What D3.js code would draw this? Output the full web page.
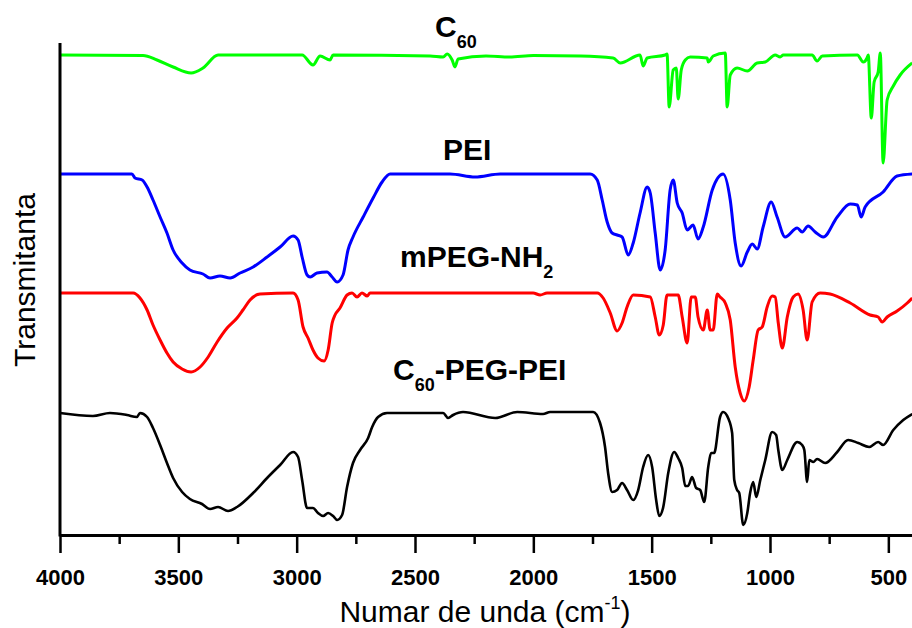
<!DOCTYPE html>
<html>
<head>
<meta charset="utf-8">
<script src="https://cdn.jsdelivr.net/npm/d3@7"></script>
<style>
  body { margin: 0; background: #fff; }
  svg { display: block; font-family: 'Liberation Sans', Arial, sans-serif; }
</style>
</head>
<body>
<div class="chart"></div>
<script>
const width = 912;
const height = 628;
const marginLeft = 60;
const marginRight = 0;
const plotTop = 43;
const plotBottom = 535;

// spectra: [wavenumber cm-1, transmittance (a.u., curves offset)]
const c60 = [
  [4000, 96], [3649, 95.9], [3590, 95], [3522, 93.6], [3446, 92.4], [3396, 93.4],
  [3332, 96], [2977, 96], [2931, 94], [2901, 95.8], [2859, 95], [2846, 96],
  [2436, 95.8], [2381, 95.6], [2364, 96.2], [2343, 95], [2331, 93.6], [2318, 95.2],
  [2200, 95.8], [2100, 95.6], [2000, 95.9], [1800, 95.8], [1663, 95.4], [1633, 94.4],
  [1549, 96], [1536, 93.8], [1519, 95.4], [1443, 96], [1435, 96.2], [1426, 85.6],
  [1409, 93], [1396, 93.4], [1388, 87.2], [1375, 93], [1358, 95], [1337, 95.6],
  [1265, 95.4], [1261, 94.6], [1240, 95.8], [1189, 96.4], [1181, 85.6], [1168, 92],
  [1139, 93.4], [1096, 92.8], [1054, 94.4], [1020, 94.6], [978, 96], [957, 95.6],
  [944, 96], [822, 96], [801, 94.8], [779, 95.8], [631, 96], [606, 94.6],
  [590, 95.4], [585, 96], [572, 83.4], [560, 90.6], [543, 92.6], [534, 96.4],
  [522, 74.4], [505, 87], [479, 89.8], [450, 92], [399, 94.4],
];

const pei = [
  [4000, 72.2], [3696, 72.2], [3683, 71.4], [3653, 71], [3632, 69.6], [3607, 67],
  [3577, 63.6], [3548, 60.4], [3522, 57], [3484, 54.4], [3451, 53], [3396, 52.2],
  [3366, 51.4], [3324, 51.8], [3281, 51.4], [3239, 52.4], [3184, 53.6], [3125, 55.6],
  [3070, 57.6], [3015, 59.8], [2994, 59], [2977, 55.6], [2956, 52], [2943, 51.6],
  [2914, 52.4], [2872, 52.6], [2850, 51.6], [2829, 50.6], [2804, 52], [2783, 57],
  [2762, 59.6], [2719, 63.6], [2677, 67.4], [2639, 70.6], [2605, 72.2], [2352, 72.2],
  [2246, 71.6], [2140, 72.2], [1760, 72.2], [1730, 71], [1709, 67], [1688, 62.6],
  [1667, 60.4], [1646, 60], [1625, 59.6], [1599, 56], [1578, 58.4], [1549, 64.4],
  [1519, 69.6], [1506, 68.4], [1485, 60.4], [1464, 53], [1443, 57], [1422, 69],
  [1409, 71], [1392, 66.4], [1371, 64.4], [1350, 61], [1325, 62], [1304, 59.2],
  [1282, 61.6], [1244, 69], [1198, 72.2], [1168, 67], [1147, 58.4], [1122, 53.8],
  [1096, 56.6], [1075, 58.2], [1054, 57.2], [1029, 61.6], [995, 66.6], [970, 63.6],
  [936, 59.6], [885, 61.4], [864, 60.6], [839, 61.8], [809, 60.6], [775, 59.6],
  [716, 63.6], [661, 66.2], [631, 66], [615, 63.6], [598, 65.6], [522, 68.6],
  [463, 71.8], [399, 72.2],
];

const mpeg = [
  [4000, 48.4], [3691, 48.4], [3662, 47.4], [3632, 45], [3607, 42], [3577, 39],
  [3548, 36.4], [3522, 34.6], [3484, 33.2], [3446, 32.6], [3408, 33.6], [3374, 35.6],
  [3336, 38.6], [3294, 41.4], [3252, 43.4], [3227, 45], [3197, 47], [3155, 48.2],
  [3015, 48.4], [2994, 47], [2973, 41.6], [2952, 39.4], [2931, 37], [2910, 35.4],
  [2884, 34.8], [2867, 37], [2850, 42.4], [2838, 44], [2817, 45.4], [2787, 48],
  [2766, 48.4], [2745, 47.6], [2724, 48.4], [2702, 47.8], [2690, 48.4], [2001, 48.4],
  [1971, 48], [1942, 48.4], [1730, 48.4], [1705, 47.4], [1675, 44.4], [1646, 40.8],
  [1625, 42.4], [1604, 45.6], [1578, 48], [1506, 47.6], [1485, 43.6], [1468, 40],
  [1451, 42], [1435, 48], [1388, 48], [1371, 43.6], [1350, 38.4], [1333, 47.6],
  [1316, 47.6], [1304, 43.6], [1282, 41], [1265, 45], [1253, 41], [1240, 41],
  [1223, 48.2], [1211, 47.6], [1189, 46.4], [1168, 43], [1147, 33.6], [1126, 28.4],
  [1109, 26.8], [1088, 29.6], [1071, 35], [1050, 41], [1033, 41.6], [1012, 45.6],
  [991, 47.8], [978, 47.6], [965, 42.4], [948, 37.4], [927, 43.6], [902, 47.6],
  [881, 48.2], [860, 45], [843, 39], [822, 46.6], [788, 48.4], [746, 48.2],
  [661, 46.4], [577, 44], [543, 43.6], [526, 42.6], [505, 43.6], [463, 44.8],
  [420, 46.4], [399, 47.4],
];

const c60PegPei = [
  [4000, 24.4], [3861, 23.8], [3789, 24.4], [3717, 24], [3675, 23.6], [3662, 24.4],
  [3632, 23.6], [3607, 21.4], [3577, 18], [3548, 14.4], [3522, 11.4], [3484, 8.6],
  [3451, 7.2], [3400, 6.2], [3366, 5.2], [3332, 5.6], [3290, 4.8], [3252, 5.6],
  [3184, 8.4], [3125, 11.4], [3070, 14], [3015, 16.6], [2994, 15.6], [2977, 11],
  [2956, 5.4], [2931, 5.4], [2910, 4.4], [2888, 3.8], [2867, 4.4], [2846, 3.8],
  [2829, 3], [2808, 4], [2787, 9.6], [2762, 14.4], [2732, 17], [2698, 19.4],
  [2681, 21.6], [2656, 23.6], [2618, 24.4], [2381, 24.4], [2360, 23.4], [2339, 24],
  [2297, 24.6], [2161, 23.4], [2068, 24.6], [1959, 24.2], [1929, 24.6], [1747, 24.6],
  [1718, 22.4], [1697, 17.6], [1684, 12.4], [1667, 8.6], [1646, 9], [1625, 10.4],
  [1604, 9], [1578, 7], [1557, 9], [1536, 13.6], [1515, 16], [1498, 13.6],
  [1481, 7], [1468, 3.8], [1451, 5.6], [1430, 12.4], [1405, 16.6], [1388, 15.4],
  [1371, 13.4], [1358, 9.8], [1346, 9.8], [1329, 11.6], [1312, 9.4], [1295, 9],
  [1278, 6.6], [1261, 13.6], [1249, 16.4], [1236, 16.4], [1211, 23.6], [1198, 24.6],
  [1177, 23.4], [1160, 20.4], [1151, 11], [1139, 9], [1130, 8.4], [1113, 2],
  [1096, 4.4], [1084, 8.4], [1071, 10.6], [1058, 7.6], [1041, 11], [1020, 15],
  [991, 20.6], [974, 20], [965, 17], [948, 13], [927, 15], [885, 18.6],
  [864, 18], [855, 17], [843, 10.6], [834, 15], [817, 14.6], [801, 15.2],
  [767, 14.4], [716, 16.6], [670, 19], [627, 18.4], [581, 17.6], [543, 18.6],
  [522, 18], [479, 21], [437, 23], [399, 24.2],
];

const seriesNames = ['C60', 'PEI', 'mPEG-NH2', 'C60-PEG-PEI'];
const seriesColors = ['#00ff00', '#0000ff', '#ff0000', '#000000'];
const seriesData = [c60, pei, mpeg, c60PegPei];

const xTicks = [4000, 3500, 3000, 2500, 2000, 1500, 1000, 500];
const xMinorTicks = [3750, 3250, 2750, 2250, 1750, 1250, 750];

const svg = d3
  .select('.chart')
  .append('svg')
  .attr('width', width)
  .attr('height', height);

const xScale = d3
  .scaleLinear()
  .domain([4000, 400])
  .range([marginLeft, width - marginRight]);

const yScale = d3.scaleLinear().domain([0, 100]).range([plotBottom, 35]);

// curves
const line = d3
  .line()
  .x((d) => xScale(d[0]))
  .y((d) => yScale(d[1]))
  .curve(d3.curveMonotoneX);

svg
  .append('g')
  .selectAll('path')
  .data(seriesData)
  .enter()
  .append('path')
  .attr('d', line)
  .attr('fill', 'none')
  .attr('stroke', (d, i) => seriesColors[i])
  .attr('stroke-width', (d, i) => (i === 3 ? 2.6 : 3))
  .attr('stroke-linejoin', 'round');

// X axis (major)
const xAxis = d3
  .axisBottom(xScale)
  .tickValues(xTicks)
  .tickSize(18)
  .tickSizeOuter(0)
  .tickPadding(16)
  .tickFormat(d3.format('d'));

const gx = svg
  .append('g')
  .attr('transform', `translate(0, ${plotBottom})`)
  .call(xAxis);

gx.select('.domain').attr('stroke-width', 3);
gx.selectAll('.tick line').attr('stroke-width', 2.5);
gx.selectAll('.tick text')
  .attr('font-size', 22)
  .attr('font-weight', 'bold')
  .attr('font-family', "'Liberation Sans', Arial, sans-serif")
  .attr('fill', '#000');

// X axis (minor)
const xMinor = d3
  .axisBottom(xScale)
  .tickValues(xMinorTicks)
  .tickSize(9)
  .tickSizeOuter(0)
  .tickFormat('');

const gxm = svg
  .append('g')
  .attr('transform', `translate(0, ${plotBottom})`)
  .call(xMinor);
gxm.select('.domain').remove();
gxm.selectAll('.tick line').attr('stroke-width', 2.5);

// Y axis line only
svg
  .append('line')
  .attr('x1', marginLeft)
  .attr('x2', marginLeft)
  .attr('y1', plotBottom + 1.5)
  .attr('y2', plotTop)
  .attr('stroke', '#000')
  .attr('stroke-width', 3);

// X axis title
const xTitle = svg
  .append('text')
  .attr('x', 485)
  .attr('y', 622)
  .attr('text-anchor', 'middle')
  .attr('font-size', 30);
xTitle.append('tspan').text('Numar de unda (cm');
xTitle.append('tspan').attr('font-size', 18).attr('dy', -13).text('-1');
xTitle.append('tspan').attr('dy', 13).text(')');

// Y axis title
svg
  .append('text')
  .attr('transform', 'rotate(-90)')
  .attr('x', -280)
  .attr('y', 35)
  .attr('text-anchor', 'middle')
  .attr('font-size', 30)
  .text('Transmitanta');

// Curve labels
const labelPos = [
  { x: 435, y: 37, main: 'C', sub: '60', rest: '' },
  { x: 443, y: 160, main: 'PEI', sub: '', rest: '' },
  { x: 400, y: 267, main: 'mPEG-NH', sub: '2', rest: '' },
  { x: 393, y: 380, main: 'C', sub: '60', rest: '-PEG-PEI' },
];

labelPos.forEach((l) => {
  const t = svg
    .append('text')
    .attr('x', l.x)
    .attr('y', l.y)
    .attr('font-size', 30)
    .attr('font-weight', 'bold');
  t.append('tspan').text(l.main);
  if (l.sub) {
    t.append('tspan').attr('font-size', 18).attr('dy', 11).text(l.sub);
  }
  if (l.rest) {
    t.append('tspan').attr('dy', -11).text(l.rest);
  }
});
</script>
</body>
</html>
